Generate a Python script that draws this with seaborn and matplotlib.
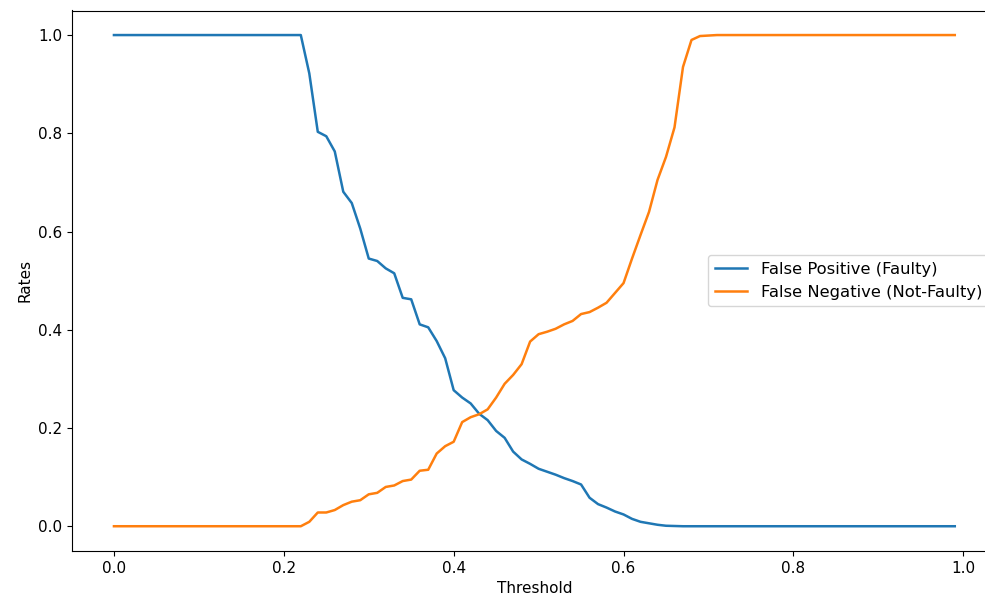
import numpy as np
import matplotlib
matplotlib.use("Agg")
import matplotlib.pyplot as plt
import seaborn as sns
import pandas as pd

# thresholds 0.00 .. 0.99
thresholds = np.round(np.arange(0, 1.0, 0.01), 2)

false_positive = [
    1.0, 1.0, 1.0, 1.0, 1.0, 1.0, 1.0, 1.0, 1.0, 1.0,
    1.0, 1.0, 1.0, 1.0, 1.0, 1.0, 1.0, 1.0, 1.0, 1.0,
    1.0, 1.0, 1.0, 0.922, 0.803, 0.794, 0.763, 0.681, 0.658, 0.606,
    0.545, 0.540, 0.525, 0.515, 0.465, 0.462, 0.411, 0.405, 0.377, 0.342,
    0.277, 0.262, 0.250, 0.229, 0.216, 0.194, 0.180, 0.152, 0.136, 0.127,
    0.117, 0.111, 0.105, 0.098, 0.092, 0.085, 0.058, 0.045, 0.038, 0.030,
    0.024, 0.015, 0.009, 0.006, 0.003, 0.001, 0.0005, 0.0, 0.0, 0.0,
    0.0, 0.0, 0.0, 0.0, 0.0, 0.0, 0.0, 0.0, 0.0, 0.0,
    0.0, 0.0, 0.0, 0.0, 0.0, 0.0, 0.0, 0.0, 0.0, 0.0,
    0.0, 0.0, 0.0, 0.0, 0.0, 0.0, 0.0, 0.0, 0.0, 0.0,
]

false_negative = [
    0.0, 0.0, 0.0, 0.0, 0.0, 0.0, 0.0, 0.0, 0.0, 0.0,
    0.0, 0.0, 0.0, 0.0, 0.0, 0.0, 0.0, 0.0, 0.0, 0.0,
    0.0, 0.0, 0.0, 0.009, 0.028, 0.028, 0.033, 0.043, 0.050, 0.053,
    0.065, 0.068, 0.080, 0.083, 0.092, 0.095, 0.113, 0.115, 0.148, 0.163,
    0.172, 0.212, 0.222, 0.228, 0.238, 0.262, 0.290, 0.308, 0.330, 0.376,
    0.391, 0.396, 0.402, 0.411, 0.418, 0.432, 0.436, 0.445, 0.455, 0.475,
    0.495, 0.545, 0.593, 0.640, 0.705, 0.752, 0.812, 0.935, 0.990, 0.998,
    0.999, 1.0, 1.0, 1.0, 1.0, 1.0, 1.0, 1.0, 1.0, 1.0,
    1.0, 1.0, 1.0, 1.0, 1.0, 1.0, 1.0, 1.0, 1.0, 1.0,
    1.0, 1.0, 1.0, 1.0, 1.0, 1.0, 1.0, 1.0, 1.0, 1.0,
]

df = pd.DataFrame({
    "threshold": thresholds,
    "fp": false_positive,
    "fn": false_negative,
})

plt.rcParams["font.size"] = 11

fig, ax = plt.subplots(figsize=(9.85, 6), dpi=100)
# the original screenshot is cut off on the right, so the right spine sits just off canvas
fig.subplots_adjust(left=0.073, right=1.012, top=0.9825, bottom=0.082)

sns.lineplot(data=df, x="threshold", y="fp", ax=ax, color="#1f77b4",
             linewidth=1.8, label="False Positive (Faulty)")
sns.lineplot(data=df, x="threshold", y="fn", ax=ax, color="#ff7f0e",
             linewidth=1.8, label="False Negative (Not-Faulty)")

ax.set_xlabel("Threshold")
ax.set_ylabel("Rates")
ax.set_xticks([0.0, 0.2, 0.4, 0.6, 0.8, 1.0])
ax.legend(loc="center right", fontsize=11.8)

plt.savefig("out.png", dpi=100)
